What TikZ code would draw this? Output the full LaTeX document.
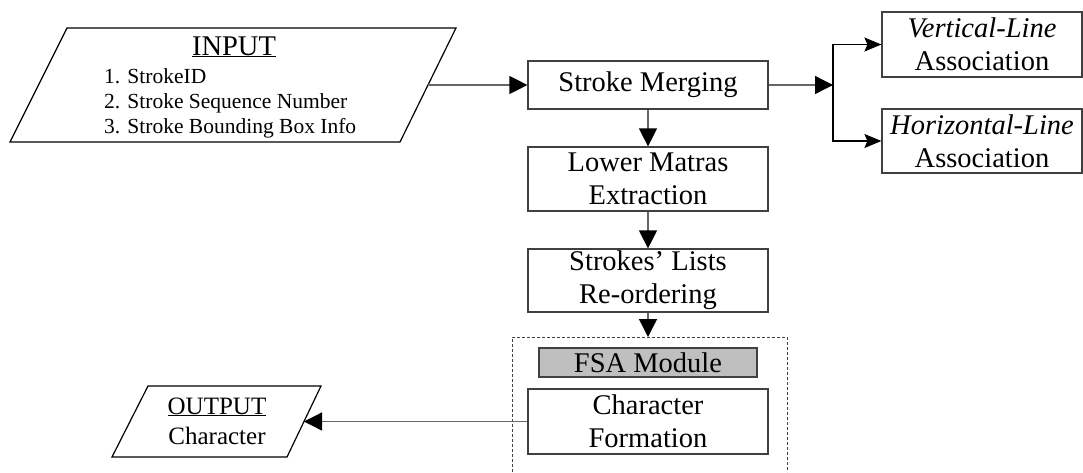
\documentclass[tikz,border=0pt]{standalone}
\usepackage{fontspec}
\setmainfont{Liberation Serif}
\usetikzlibrary{arrows.meta}
\newcommand\bxfont{\fontsize{28.5}{33}\selectfont}
\newcommand\lsfont{\fontsize{21.5}{25}\selectfont}
\newcommand\outfont{\fontsize{25}{30}\selectfont}
\begin{document}
\begin{tikzpicture}[x=1pt,y=-1pt,
  box/.style={draw=black!75, line width=1.2pt, fill=white, inner sep=0pt, align=center, font=\bxfont},
  conn/.style={draw=black!60, line width=1.3pt},
  arr/.style={conn, -{Triangle[length=18pt,width=18pt,black]}},
  sarr/.style={draw=black, line width=1.2pt, -{Stealth[length=17pt,width=14pt,inset=3pt,black]}},
  para/.style={draw=black, line width=1.2pt},
  grp/.style={draw=black!75, line width=1pt, dash pattern=on 3pt off 2pt}]
\useasboundingbox (0,0) rectangle (1083,472);
\fill[white] (0,0) rectangle (1083,472);

% INPUT parallelogram
\coordinate (iTL) at (67,28);
\coordinate (iTR) at (456,28);
\coordinate (iBR) at (400,142);
\coordinate (iBL) at (10,142);
\draw[para] (iTL) -- (iTR) -- (iBR) -- (iBL) -- cycle;
\node[anchor=base, font=\bxfont, inner sep=0pt] (inTitle) at (234,55) {\underline{INPUT}};
\node[anchor=base west, font=\lsfont, inner sep=0pt] (in1) at (104,83) {1. StrokeID};
\node[anchor=base west, font=\lsfont, inner sep=0pt] (in2) at (104,108) {2. Stroke Sequence Number};
\node[anchor=base west, font=\lsfont, inner sep=0pt] (in3) at (104,133) {3. Stroke Bounding Box Info};
\coordinate (inR) at (428,85);

% main column
\node[box, minimum width=240pt, minimum height=48pt] (merge) at (648,85) {Stroke Merging};
\node[box, minimum width=240pt, minimum height=64pt] (lower) at (648,179) {Lower Matras\\Extraction};
\node[box, minimum width=240pt, minimum height=63pt] (reord) at (648,280.5) {Strokes’ Lists\\Re-ordering};

% right boxes
\node[box, minimum width=200pt, minimum height=65pt] (vbox) at (982,44.5) {{\itshape Vertical-Line}\\Association};
\node[box, minimum width=200pt, minimum height=64pt] (hbox) at (982,141) {{\itshape Horizontal-Line}\\Association};

% FSA group
\coordinate (gTop) at (648,337);
\draw[grp] (512,472) -- (512,337) -- (787,337) -- (787,472);
\node[box, fill=black!25, minimum width=218pt, minimum height=29pt] (fsa) at (648,362.5) {FSA Module};
\node[box, minimum width=240pt, minimum height=65pt] (charf) at (648,421.5) {Character\\Formation};

% OUTPUT parallelogram
\coordinate (oTL) at (148,386);
\coordinate (oTR) at (321,386);
\coordinate (oBR) at (287,457);
\coordinate (oBL) at (112,457);
\draw[para] (oTL) -- (oTR) -- (oBR) -- (oBL) -- cycle;
\node[anchor=base, font=\outfont, inner sep=0pt] (outTitle) at (217,414) {\underline{OUTPUT}};
\node[anchor=base, font=\outfont, inner sep=0pt] (outChar) at (217,444) {Character};
\coordinate (outR) at (304,421.5);

% connectors
\coordinate (jn) at (833,85);
\draw[arr] (inR) -- (merge.west);
\draw[arr] (merge.east) -- (jn);
\draw[sarr] (jn) |- (vbox.west);
\draw[sarr] (jn) |- (hbox.west);
\draw[arr] (merge.south) -- (lower.north);
\draw[arr] (lower.south) -- (reord.north);
\draw[arr] (reord.south) -- (gTop);
\draw[arr] (charf.west) -- (outR);
\end{tikzpicture}
\end{document}
